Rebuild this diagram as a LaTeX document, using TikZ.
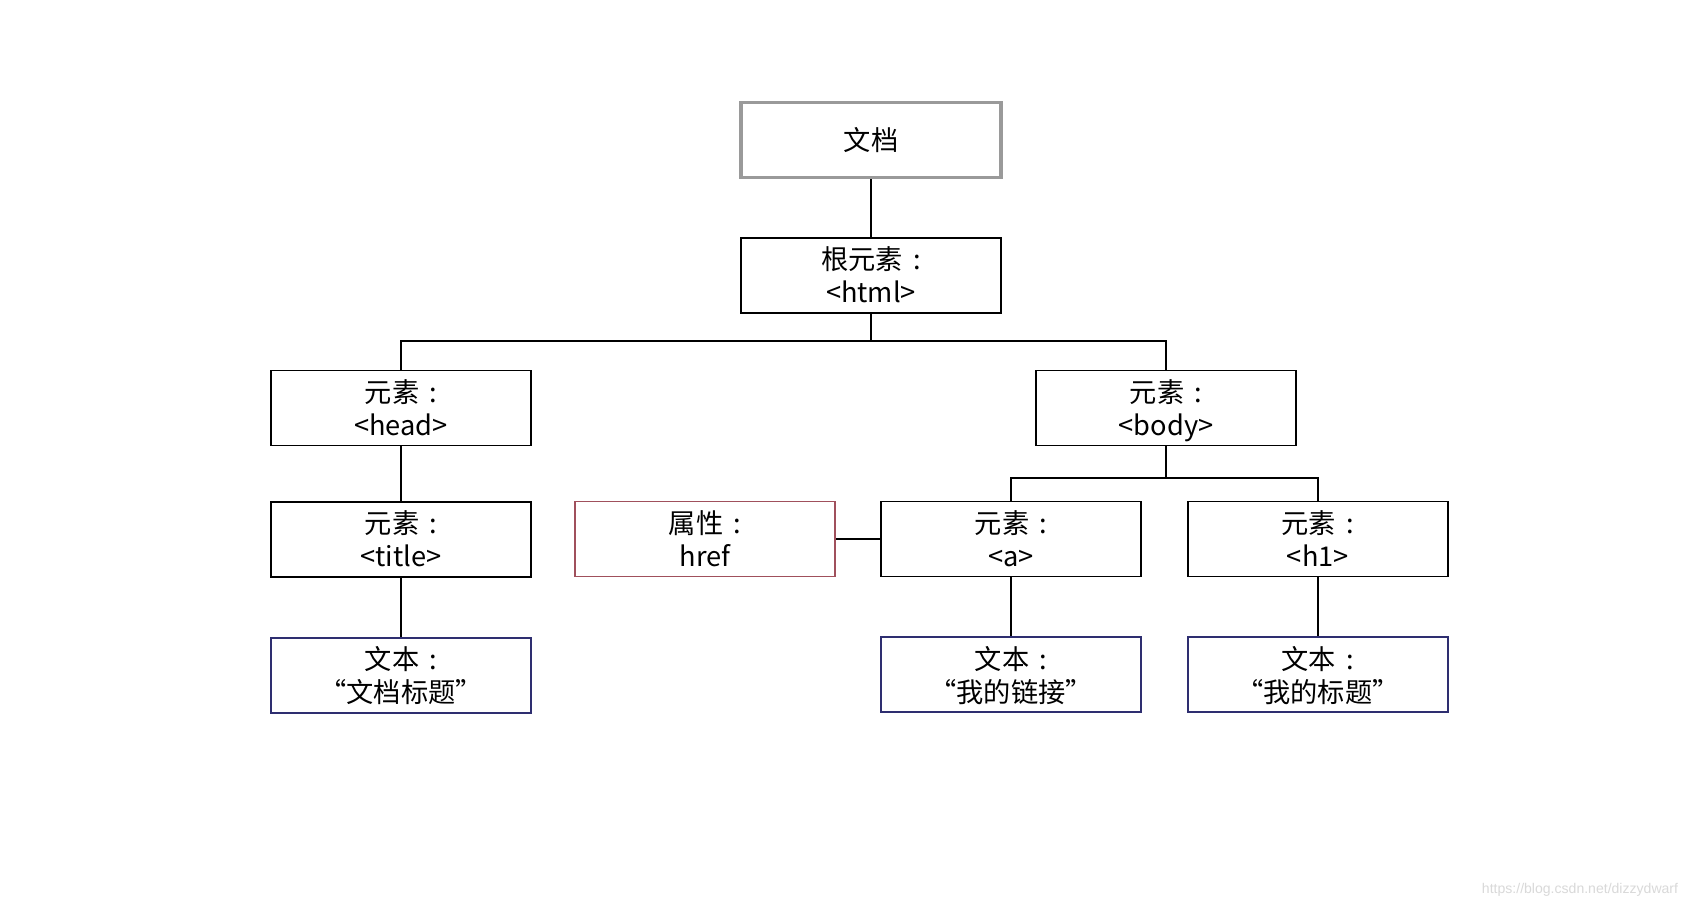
\documentclass[tikz,border=0pt]{standalone}
\usepackage{fontspec}
\setmainfont{Noto Sans CJK SC}
\newfontfamily\wmfont{Liberation Sans}
\usepackage{tikz}
\usetikzlibrary{positioning}
\definecolor{docgray}{HTML}{9A9A9A}
\definecolor{attr}{HTML}{A0505C}
\definecolor{txtblue}{HTML}{2E2E70}
\newcommand{\cln}{\hspace{0.38em}:\hspace{0.38em}}

\begin{document}
\begin{tikzpicture}[x=0.02cm, y=-0.02cm,
  font=\fontsize{15.5pt}{18.8pt}\selectfont,
  box/.style={draw, line width=1.1pt, minimum width=5.2cm, minimum height=1.5cm,
    align=center, inner sep=2pt, fill=white, text depth=1pt},
  docbox/.style={box, draw=docgray, line width=1.8pt},
  attrbox/.style={box, draw=attr},
  txtbox/.style={box, draw=txtblue},
  ln/.style={line width=1.1pt}]
  \useasboundingbox[fill=white] (0,0) rectangle (1701,909);
  \node[docbox] (doc) at (871,140) {文档};
  \node[box, below=1.16cm of doc] (html) {根元素\cln\\<html>};
  \node[box] (head) at (401,408) {元素\cln\\<head>};
  \node[box] (body) at (1166,408) {元素\cln\\<body>};
  \node[box, below=1.1cm of head] (title) {元素\cln\\<title>};
  \node[txtbox, below=1.18cm of title] (ttitle) {文本\cln\\“文档标题”};
  \node[box] (a) at (1011,539) {元素\cln\\<a>};
  \node[box, right=0.9cm of a] (h1) {元素\cln\\<h1>};
  \node[attrbox, left=0.88cm of a] (href) {属性\cln\\href};
  \node[txtbox, below=1.18cm of a] (ta) {文本\cln\\“我的链接”};
  \node[txtbox, below=1.18cm of h1] (th1) {文本\cln\\“我的标题”};
  \coordinate[below=0.54cm of html] (bus);
  \coordinate[below=0.64cm of body] (sbus);
  \draw[ln] (doc) -- (html);
  \draw[ln] (html) -- (bus);
  \draw[ln] (head.north) |- (bus) -| (body.north);
  \draw[ln] (head) -- (title);
  \draw[ln] (title) -- (ttitle);
  \draw[ln] (body) -- (sbus);
  \draw[ln] (a.north) |- (sbus) -| (h1.north);
  \draw[ln] (href) -- (a);
  \draw[ln] (a) -- (ta);
  \draw[ln] (h1) -- (th1);
  \node[font=\wmfont\fontsize{8pt}{9pt}\selectfont, text=gray!30] (wm) at (1580,890)
    {https://blog.csdn.net/dizzydwarf};
\end{tikzpicture}
\end{document}
